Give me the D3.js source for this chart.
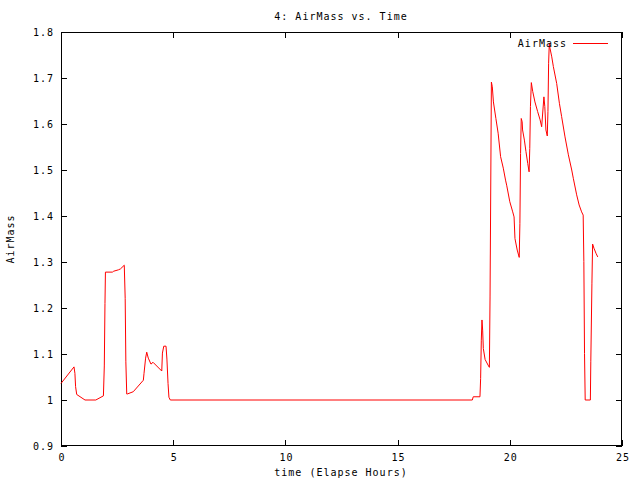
<!DOCTYPE html>
<html><head><meta charset="utf-8">
<script src="https://cdn.jsdelivr.net/npm/d3@7"></script>
<style>body{margin:0;background:#fff}svg{display:block}text{font-family:"DejaVu Sans Mono",monospace;font-size:10px;letter-spacing:1px;fill:#000}</style>
</head><body>
<script>
const times = [0,0.58,0.62,0.65,0.70,1.07,1.55,1.89,1.93,1.96,1.98,2.29,2.35,2.56,2.65,2.82,2.86,2.89,2.93,2.95,3.22,3.67,3.70,3.77,3.82,3.89,4.01,4.10,4.49,4.52,4.58,4.68,4.72,4.77,4.81,4.87,
 18.33,18.37,18.67,18.70,18.73,18.76,18.79,18.82,18.90,19.03,19.09,19.12,19.18,19.22,19.27,19.38,19.48,19.59,19.71,19.81,19.86,20.0,20.13,20.19,20.23,20.33,20.42,20.45,20.48,20.51,20.55,20.57,20.65,20.72,20.80,20.86,20.89,20.92,20.96,21.02,21.12,21.24,21.35,21.42,21.52,21.56,21.61,21.67,21.70,21.73,21.76,21.79,21.87,21.94,22.09,22.21,22.31,22.46,22.61,22.76,22.83,22.98,23.09,23.20,23.27,23.30,23.33,23.36,23.59,23.61,23.66,23.69,23.75,23.84,23.92];
const airmass = [1.036,1.072,1.058,1.029,1.012,1.0,1.0,1.009,1.074,1.21,1.278,1.278,1.280,1.283,1.285,1.293,1.221,1.083,1.013,1.013,1.018,1.043,1.058,1.091,1.104,1.091,1.078,1.082,1.063,1.102,1.117,1.117,1.089,1.036,1.006,1.0,
 1.0,1.007,1.007,1.047,1.13,1.174,1.152,1.112,1.088,1.076,1.071,1.226,1.691,1.681,1.648,1.612,1.580,1.529,1.504,1.478,1.467,1.431,1.409,1.398,1.351,1.326,1.310,1.384,1.536,1.612,1.605,1.587,1.565,1.540,1.514,1.496,1.547,1.638,1.690,1.671,1.648,1.627,1.609,1.594,1.659,1.638,1.587,1.574,1.627,1.732,1.775,1.765,1.746,1.725,1.688,1.645,1.616,1.572,1.533,1.5,1.482,1.446,1.424,1.409,1.402,1.301,1.101,1.0,1.0,1.083,1.254,1.339,1.33,1.319,1.311];
const xTicks = [0,5,10,15,20,25];
const yTicks = [0.9,1,1.1,1.2,1.3,1.4,1.5,1.6,1.7,1.8];

const W=640,H=480, L=61, R=622, T=32, B=446;
const svg=d3.select("body").append("svg").attr("width",W).attr("height",H);
const x=d3.scaleLinear().domain([0,25]).range([L,R]);
const y=d3.scaleLinear().domain([0.9,1.8]).range([B,T]);
const fmt=d=>String(+d.toFixed(1));

svg.append("rect").attr("x",L+0.5).attr("y",T+0.5).attr("width",R-L-1).attr("height",B-T-1)
  .attr("fill","none").attr("stroke","#000").attr("stroke-width",1);

const tk=6;
const g=svg.append("g").attr("stroke","#000").attr("shape-rendering","crispEdges");
xTicks.forEach(t=>{const px=Math.round(x(t))+0.5;
  g.append("line").attr("x1",px).attr("x2",px).attr("y1",B).attr("y2",B-tk);
  g.append("line").attr("x1",px).attr("x2",px).attr("y1",T).attr("y2",T+tk);});
yTicks.forEach(v=>{const py=Math.round(y(v))+0.5;
  g.append("line").attr("x1",L).attr("x2",L+tk).attr("y1",py).attr("y2",py);
  g.append("line").attr("x1",R).attr("x2",R-tk).attr("y1",py).attr("y2",py);});

svg.selectAll(".xl").data(xTicks).enter().append("text").attr("x",d=>x(d)+1).attr("y",B+15)
  .attr("text-anchor","middle").text(d=>d);
svg.selectAll(".yl").data(yTicks).enter().append("text").attr("x",L-7).attr("y",d=>y(d)+4)
  .attr("text-anchor","end").text(d=>fmt(d));

svg.append("text").attr("x",341).attr("y",20).attr("text-anchor","middle").text("4: AirMass vs. Time");
svg.append("text").attr("x",341).attr("y",476).attr("text-anchor","middle").text("time (Elapse Hours)");
svg.append("text").attr("transform","translate(14,239) rotate(-90)").attr("text-anchor","middle").text("AirMass");

const data=times.map((t,i)=>[t,airmass[i]]);
svg.append("path").datum(data).attr("fill","none").attr("stroke","#f00").attr("stroke-width",1)
  .attr("d",d3.line().x(d=>x(d[0])).y(d=>y(d[1])));

svg.append("text").attr("x",567).attr("y",47).attr("text-anchor","end").text("AirMass");
svg.append("line").attr("x1",573).attr("x2",608).attr("y1",43.5).attr("y2",43.5).attr("stroke","#f00");
</script>
</body></html>
